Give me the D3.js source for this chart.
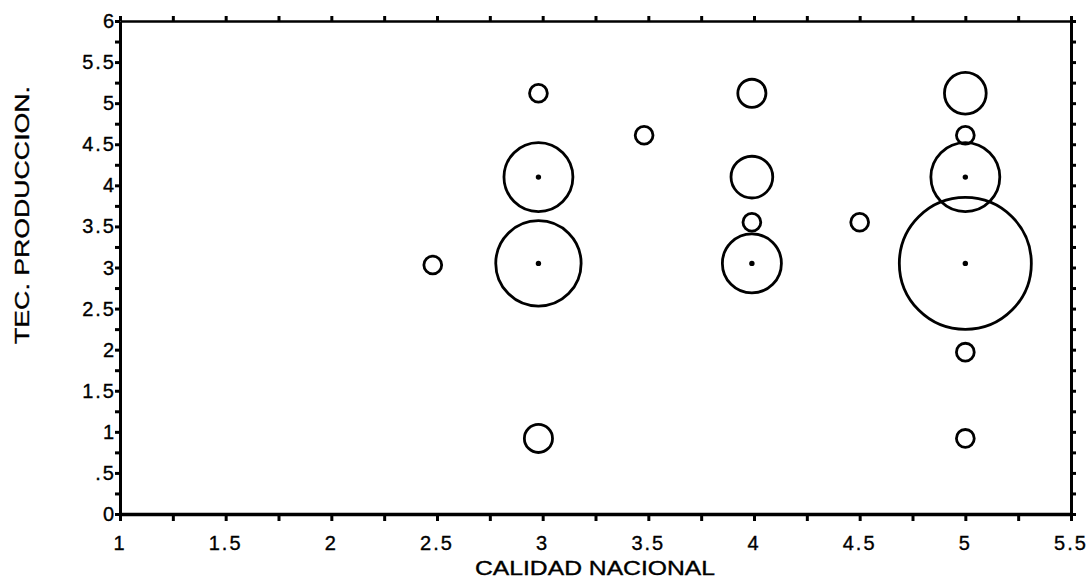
<!DOCTYPE html>
<html lang="es">
<head>
  <meta charset="UTF-8">
  <title>Calidad nacional vs tec. produccion</title>
  <script src="https://d3js.org/d3.v7.min.js"></script>
  <style>
    body { margin: 0; background: #fff; }
    text { font-family: "Liberation Sans", Arial, sans-serif; fill: #000; stroke: #000; stroke-width: 0.35px; }
    .tick-label { font-size: 20px; letter-spacing: 2px; }
    .axis-title { font-size: 20px; }
  </style>
</head>
<body>
  <svg width="1091" height="579"></svg>

  <script>
    // Data
    const calidad = [2.48, 2.98, 2.98, 2.98, 2.98, 3.48, 3.99, 3.99, 3.99, 3.99, 4.5, 5.0, 5.0, 5.0, 5.0, 5.0, 5.0];
    const tecnica = [3.03, 5.12, 4.10, 3.05, 0.92, 4.61, 5.12, 4.10, 3.55, 3.05, 3.55, 5.12, 4.61, 4.10, 3.05, 1.97, 0.92];
    const frecuencia = [1, 1, 15, 23, 2.5, 1, 2.5, 5.5, 1, 11, 1, 5.5, 1, 15, 55, 1, 1];

    const xTickValues = [1, 1.5, 2, 2.5, 3, 3.5, 4, 4.5, 5, 5.5];
    const xTickLabels = ["1", "1.5", "2", "2.5", "3", "3.5", "4", "4.5", "5", "5.5"];
    const yTickValues = [0, 0.5, 1, 1.5, 2, 2.5, 3, 3.5, 4, 4.5, 5, 5.5, 6];
    const yTickLabels = ["0", ".5", "1", "1.5", "2", "2.5", "3", "3.5", "4", "4.5", "5", "5.5", "6"];

    const points = calidad.map((c, i) => ({ x: c, y: tecnica[i], n: frecuencia[i] }));

    const plotLeft = 120, plotRight = 1071, plotTop = 21, plotBottom = 514;
    const svg = d3.select("svg");

    const x = d3.scaleLinear().domain([1, 5.5]).range([plotLeft, plotRight]);
    const y = d3.scaleLinear().domain([0, 6]).range([plotBottom, plotTop]);
    const r = d3.scaleSqrt().domain([0, d3.max(frecuencia)]).range([0, 66]);

    const minorX = d3.range(1, 5.51, 0.25);
    const minorY = d3.range(0, 6.01, 0.25);

    // frame with ticks on all four sides
    function styleAxis(g, width) {
      g.select(".domain").attr("stroke", "#000").attr("stroke-width", width);
      g.selectAll(".tick line").attr("stroke", "#000").attr("stroke-width", 3);
    }

    svg.append("g")
      .attr("transform", `translate(0,${plotBottom})`)
      .call(d3.axisBottom(x).tickValues(minorX).tickSize(7).tickSizeOuter(0).tickFormat(""))
      .call(g => styleAxis(g, 3.5));

    svg.append("g")
      .attr("transform", `translate(0,${plotTop})`)
      .call(d3.axisTop(x).tickValues(minorX).tickSize(5).tickSizeOuter(0).tickFormat(""))
      .call(g => styleAxis(g, 2.5));

    svg.append("g")
      .attr("transform", `translate(${plotLeft},0)`)
      .call(d3.axisLeft(y).tickValues(minorY).tickSize(5).tickSizeOuter(0).tickFormat(""))
      .call(g => styleAxis(g, 3));

    svg.append("g")
      .attr("transform", `translate(${plotRight},0)`)
      .call(d3.axisRight(y).tickValues(minorY).tickSize(5).tickSizeOuter(0).tickFormat(""))
      .call(g => styleAxis(g, 3));

    // tick labels
    svg.append("g").selectAll("text")
      .data(xTickValues)
      .join("text")
      .attr("class", "tick-label")
      .attr("x", d => x(d))
      .attr("y", plotBottom + 36)
      .attr("text-anchor", "middle")
      .text((d, i) => xTickLabels[i]);

    svg.append("g").selectAll("text")
      .data(yTickValues)
      .join("text")
      .attr("class", "tick-label")
      .attr("x", plotLeft - 4)
      .attr("y", d => y(d) + 7)
      .attr("text-anchor", "end")
      .text((d, i) => yTickLabels[i]);

    // axis titles
    svg.append("text")
      .attr("class", "axis-title")
      .attr("x", 595)
      .attr("y", 575)
      .attr("text-anchor", "middle")
      .attr("textLength", 240)
      .attr("lengthAdjust", "spacingAndGlyphs")
      .text("CALIDAD NACIONAL");

    svg.append("text")
      .attr("class", "axis-title")
      .attr("transform", "translate(29,215) rotate(-90)")
      .attr("text-anchor", "middle")
      .attr("textLength", 258)
      .attr("lengthAdjust", "spacingAndGlyphs")
      .text("TEC. PRODUCCION.");

    // bubbles
    svg.append("g").selectAll("circle")
      .data(points)
      .join("circle")
      .attr("cx", d => x(d.x))
      .attr("cy", d => y(d.y))
      .attr("r", d => r(d.n))
      .attr("fill", "none")
      .attr("stroke", "#000")
      .attr("stroke-width", 2.8);

    // centre dots on the large bubbles
    svg.append("g").selectAll("circle")
      .data(points.filter(d => d.n >= 10))
      .join("circle")
      .attr("cx", d => x(d.x))
      .attr("cy", d => y(d.y))
      .attr("r", 2.7)
      .attr("fill", "#000");
  </script>
</body>
</html>
